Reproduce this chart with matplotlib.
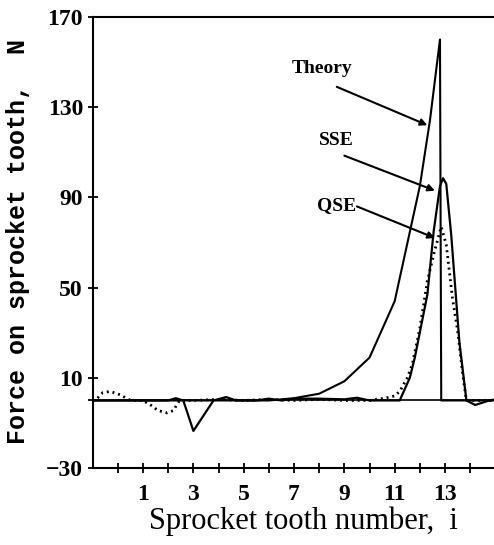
import matplotlib
matplotlib.use("Agg")
import matplotlib.pyplot as plt

# === Data ===
theory_x = [-1, 6, 7, 8, 9, 10, 11, 12, 12.4, 12.8, 12.85, 15]
theory_y = [0, 0, 1, 3, 8.5, 19, 44, 95, 124, 160, 0, 0]

sse_x = [-1, 2.0, 2.3, 2.6, 3.0, 3.8, 4.3, 4.7, 5.5, 6.0, 6.5, 7, 8, 9, 9.5,
         10, 10.5, 11.2, 11.6, 11.8, 12.3, 12.55, 12.8, 12.92, 13.05, 13.25,
         13.57, 13.85, 14.2, 14.76, 15]
sse_y = [0, 0, 1, 0, -13.5, 0, 1.5, 0, 0, 0.8, 0, 0.8, 0.8, 0.5, 1.2,
         0, 0, 0, 10, 19, 47, 75, 95, 98.5, 96, 73,
         26, 0, -2, 0, 0.5]

qse_x = [-1, -0.9, -0.6, -0.3, 0.1, 0.5, 1.0, 1.3, 1.6, 1.95, 2.2, 2.45, 3,
         4, 5, 6, 7, 8, 9, 10, 10.6, 11.0, 11.2, 11.5, 11.7, 12.0, 12.3,
         12.58, 12.85, 13.05, 13.3, 13.5, 13.7, 13.85, 15]
qse_y = [0, 0, 3.5, 4, 2.5, 0, 0, -2, -4.5, -5.5, -4.5, 0, 0,
         0.5, 0, 0.5, 0, 0.5, 0, 0, 1, 2, 4, 10, 16, 32, 53,
         66, 77, 69, 45, 31, 12, 0, 0]

x_ticks = [1, 3, 5, 7, 9, 11, 13]
y_ticks = [-30, 10, 50, 90, 130, 170]

serif = "Liberation Serif"
mono = "Liberation Mono"

# === Figure ===
fig = plt.figure(figsize=(4.94, 5.45), dpi=100)
ax = fig.add_axes([0.1877, 0.141, 0.815, 0.828])

ax.axhline(0, color="black", lw=1.2)
ax.plot(theory_x, theory_y, color="black", lw=1.5)
ax.plot(sse_x, sse_y, color="black", lw=1.6)
ax.plot(qse_x, qse_y, color="black", lw=2.0, linestyle=(0, (0.7, 1.4)))

# === Labels with arrows ===
labels = ["Theory", "SSE", "QSE"]
label_pos = [(8.1, 147), (8.7, 115), (8.7, 86.5)]
arrow_from = [(8.7, 139), (9.0, 108.5), (9.5, 86)]
arrow_to = [(12.3, 122), (12.6, 93), (12.6, 72)]
for lab, pos, a0, a1 in zip(labels, label_pos, arrow_from, arrow_to):
    ax.text(pos[0], pos[1], lab, ha="center", va="center",
            family=serif, fontweight="bold", fontsize=14)
    ax.annotate("", xy=a1, xytext=a0,
                arrowprops=dict(arrowstyle="-|>", color="black", lw=1.5,
                                mutation_scale=10, shrinkA=0, shrinkB=0))

# === Axes formatting ===
ax.set_xlim(-1, 15)
ax.set_ylim(-30, 170)
ax.spines["right"].set_visible(False)
for s in ["left", "bottom", "top"]:
    ax.spines[s].set_linewidth(1.5)

ax.set_xticks(list(range(0, 15)), minor=True)
ax.set_xticks(x_ticks)
ax.set_xticklabels([str(v) for v in x_ticks])
ax.set_yticks(y_ticks)
ax.set_yticks([0], minor=True)
ax.tick_params(axis="both", which="both", direction="inout", length=7,
               width=1.3, top=False, right=False)
ax.tick_params(axis="x", pad=8)
for t in ax.get_xticklabels() + ax.get_yticklabels():
    t.set_family(serif)
    t.set_fontweight("bold")
    t.set_fontsize(17)

fig.text(303 / 494, 1 - 521 / 545, "Sprocket tooth number,  i",
         family=serif, fontsize=22, ha="center", va="center")
fig.text(18 / 494, 1 - 241.5 / 545, "Force on sprocket tooth,  N",
         family=mono, fontweight="bold", fontsize=18,
         rotation=90, ha="center", va="center")

fig.savefig("out.png", dpi=100)
